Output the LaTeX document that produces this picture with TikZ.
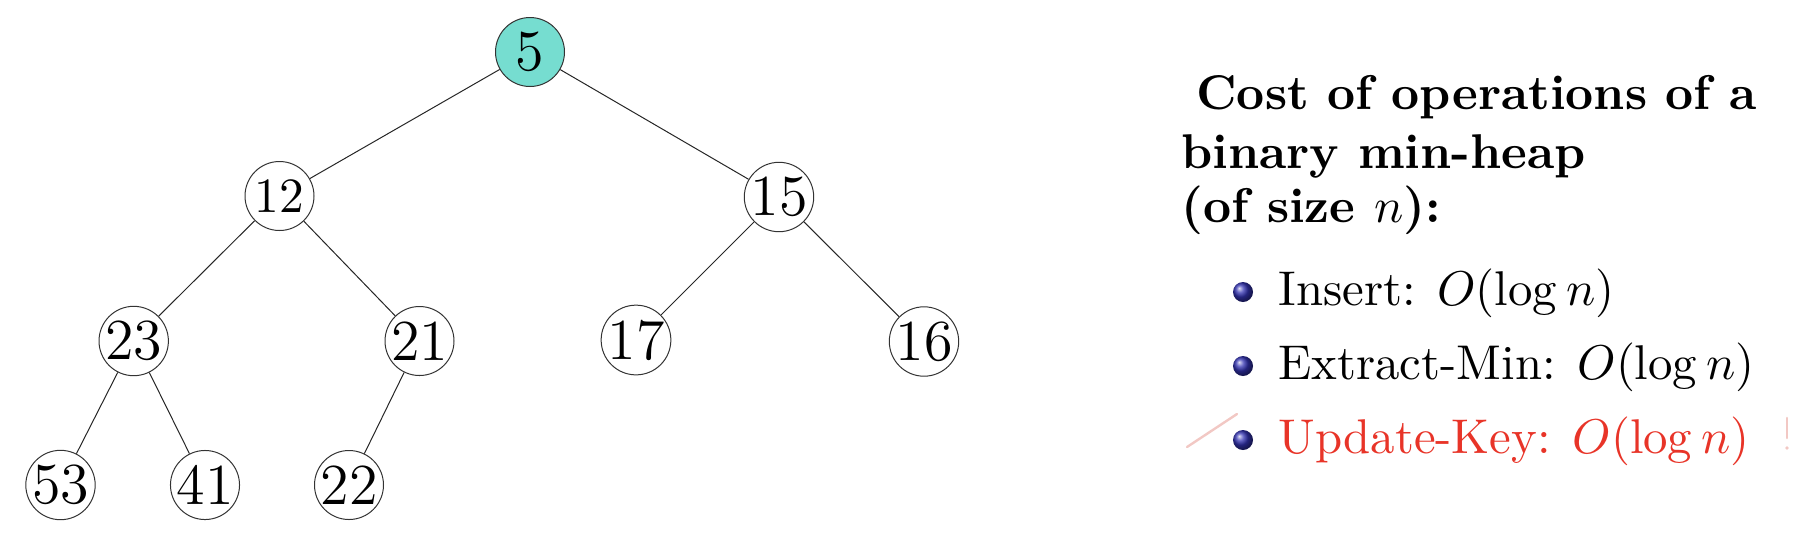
\documentclass[tikz,border=0pt]{standalone}
\usetikzlibrary{shadings}
\definecolor{rootfill}{RGB}{118,221,208}
\definecolor{alertred}{RGB}{232,52,40}
\definecolor{ballblue}{RGB}{51,51,179}
\definecolor{pinkmark}{RGB}{242,200,196}
\newcommand{\bigdig}[1]{\scalebox{2.42}{\fontsize{12}{14}\selectfont #1}}
\newcommand{\middig}[1]{\scalebox{2.25}{\fontsize{10.95}{13.6}\selectfont #1}}
\newcommand{\bodytxt}[1]{\scalebox{2.228}{\fontsize{10.95}{13.6}\selectfont #1}}
\tikzset{
  heapnode/.style={circle, draw=black!80, line width=0.5pt, fill=white, minimum size=34.5pt, inner sep=0pt},
  heapedge/.style={draw=black!85, line width=0.5pt},
  txt/.style={anchor=base west, inner sep=0pt},
  bulletball/.style={circle, inner sep=0pt, minimum size=10pt, shading=ball, ball color=ballblue},
}
\begin{document}
\begin{tikzpicture}[x=0.5pt,y=-0.5pt]
\useasboundingbox (0,0) rectangle (1804,559);
% tree nodes
\node[heapnode, fill=rootfill] (n5) at (530,52) {\bigdig{5}};
\node[heapnode] (n12) at (279.5,196) {\middig{12}};
\node[heapnode] (n15) at (779,197) {\bigdig{15}};
\node[heapnode] (n23) at (133.7,341) {\bigdig{23}};
\node[heapnode] (n21) at (419.5,341) {\bigdig{21}};
\node[heapnode] (n17) at (636,340) {\bigdig{17}};
\node[heapnode] (n16) at (924,341.5) {\bigdig{16}};
\node[heapnode] (n53) at (60.5,485) {\bigdig{53}};
\node[heapnode] (n41) at (205,485) {\bigdig{41}};
\node[heapnode] (n22) at (349,485) {\bigdig{22}};
% edges
\draw[heapedge] (n5) -- (n12);
\draw[heapedge] (n5) -- (n15);
\draw[heapedge] (n12) -- (n23);
\draw[heapedge] (n12) -- (n21);
\draw[heapedge] (n15) -- (n17);
\draw[heapedge] (n15) -- (n16);
\draw[heapedge] (n23) -- (n53);
\draw[heapedge] (n23) -- (n41);
\draw[heapedge] (n21) -- (n22);
% header text
\node[txt] (h1) at (1196,109) {\bodytxt{\textbf{Cost of operations of a}}};
\node[txt] (h2) at (1181,168) {\bodytxt{\textbf{binary min-heap}}};
\node[txt] (h3) at (1181,222) {\bodytxt{\textbf{(of size $n$):}}};
% bullets
\node[bulletball] (b1) at (1243,292) {};
\node[bulletball] (b2) at (1243,366) {};
\node[bulletball] (b3) at (1243,440) {};
\node[txt] (i1) at (1278,305) {\bodytxt{Insert: $O(\log n)$}};
\node[txt] (i2) at (1278,379) {\bodytxt{Extract-Min: $O(\log n)$}};
\node[txt, text=alertred] (i3) at (1278,453) {\bodytxt{Update-Key: $O(\log n)$}};
% faint pink marks
\coordinate (pa) at (1187,447);
\coordinate (pb) at (1237,414);
\draw[pinkmark, line width=1.2pt, line cap=round] (pa) -- (pb);
\coordinate (pc) at (1787,418);
\coordinate (pd) at (1787,438);
\coordinate (pe) at (1787,448);
\draw[pinkmark, line width=1.3pt, line cap=round] (pc) -- (pd);
\fill[pinkmark] (pe) circle (1.8);
\end{tikzpicture}
\end{document}
